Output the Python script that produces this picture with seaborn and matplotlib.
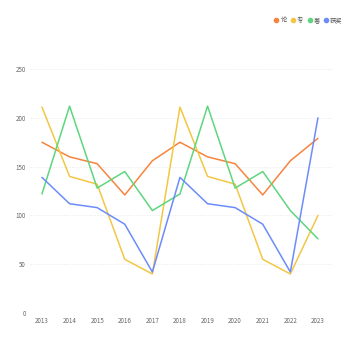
import matplotlib
matplotlib.use("Agg")
import matplotlib.pyplot as plt
import seaborn as sns
import pandas as pd
from matplotlib.lines import Line2D

years = [2013, 2014, 2015, 2016, 2017, 2018, 2019, 2020, 2021, 2022, 2023]
series_names = ["论", "专", "著", "获奖"]
lun = [175, 160, 153, 121, 156, 175, 160, 153, 121, 156, 179]
zhuan = [211, 140, 132, 55, 40, 211, 140, 132, 55, 40, 100]
zhu = [122, 212, 128, 145, 105, 122, 212, 128, 145, 105, 76]
jiang = [139, 112, 108, 91, 42, 139, 112, 108, 91, 42, 200]
colors = ["#F7843E", "#F2C744", "#5ED67E", "#6C8CFA"]

sns.set_theme(style="white")
plt.rcParams['font.family'] = ['Noto Sans CJK SC', 'DejaVu Sans']

rows = []
for name, vals in zip(series_names, [lun, zhuan, zhu, jiang]):
    for y, v in zip(years, vals):
        rows.append({"year": y, "value": v, "series": name})
df = pd.DataFrame(rows)

fig = plt.figure(figsize=(3.5, 3.5), dpi=100)
ax = fig.add_axes([0.086, 0.1057, 0.865, 0.697])
sns.lineplot(data=df, x="year", y="value", hue="series", palette=colors,
             hue_order=series_names, linewidth=1.1, ax=ax, legend=False)

ax.set_xlim(2012.57, 2023.54)
ax.set_ylim(0, 250)
ax.set_xticks(years)
ax.set_xticklabels([str(y) for y in years])
ax.set_yticks([0, 50, 100, 150, 200, 250])
ax.tick_params(axis='both', labelsize=4.5, colors="#666666", length=0, pad=3)
ax.grid(axis='y', color="#e6e6e6", linestyle=(0, (2, 2)), linewidth=0.5)
ax.grid(axis='x', visible=False)
for s in ax.spines.values():
    s.set_visible(False)
ax.set_xlabel("")
ax.set_ylabel("")

handles = [Line2D([0], [0], marker='o', linestyle='', markersize=3,
                  markerfacecolor=c, markeredgecolor=c) for c in colors]
fig.legend(handles, series_names, loc='upper right', bbox_to_anchor=(0.995, 0.97),
           ncol=4, frameon=False, fontsize=4.5, handletextpad=0.25,
           handlelength=0.8, columnspacing=0.6, labelcolor="#555555")

fig.savefig("out.png", dpi=100)
